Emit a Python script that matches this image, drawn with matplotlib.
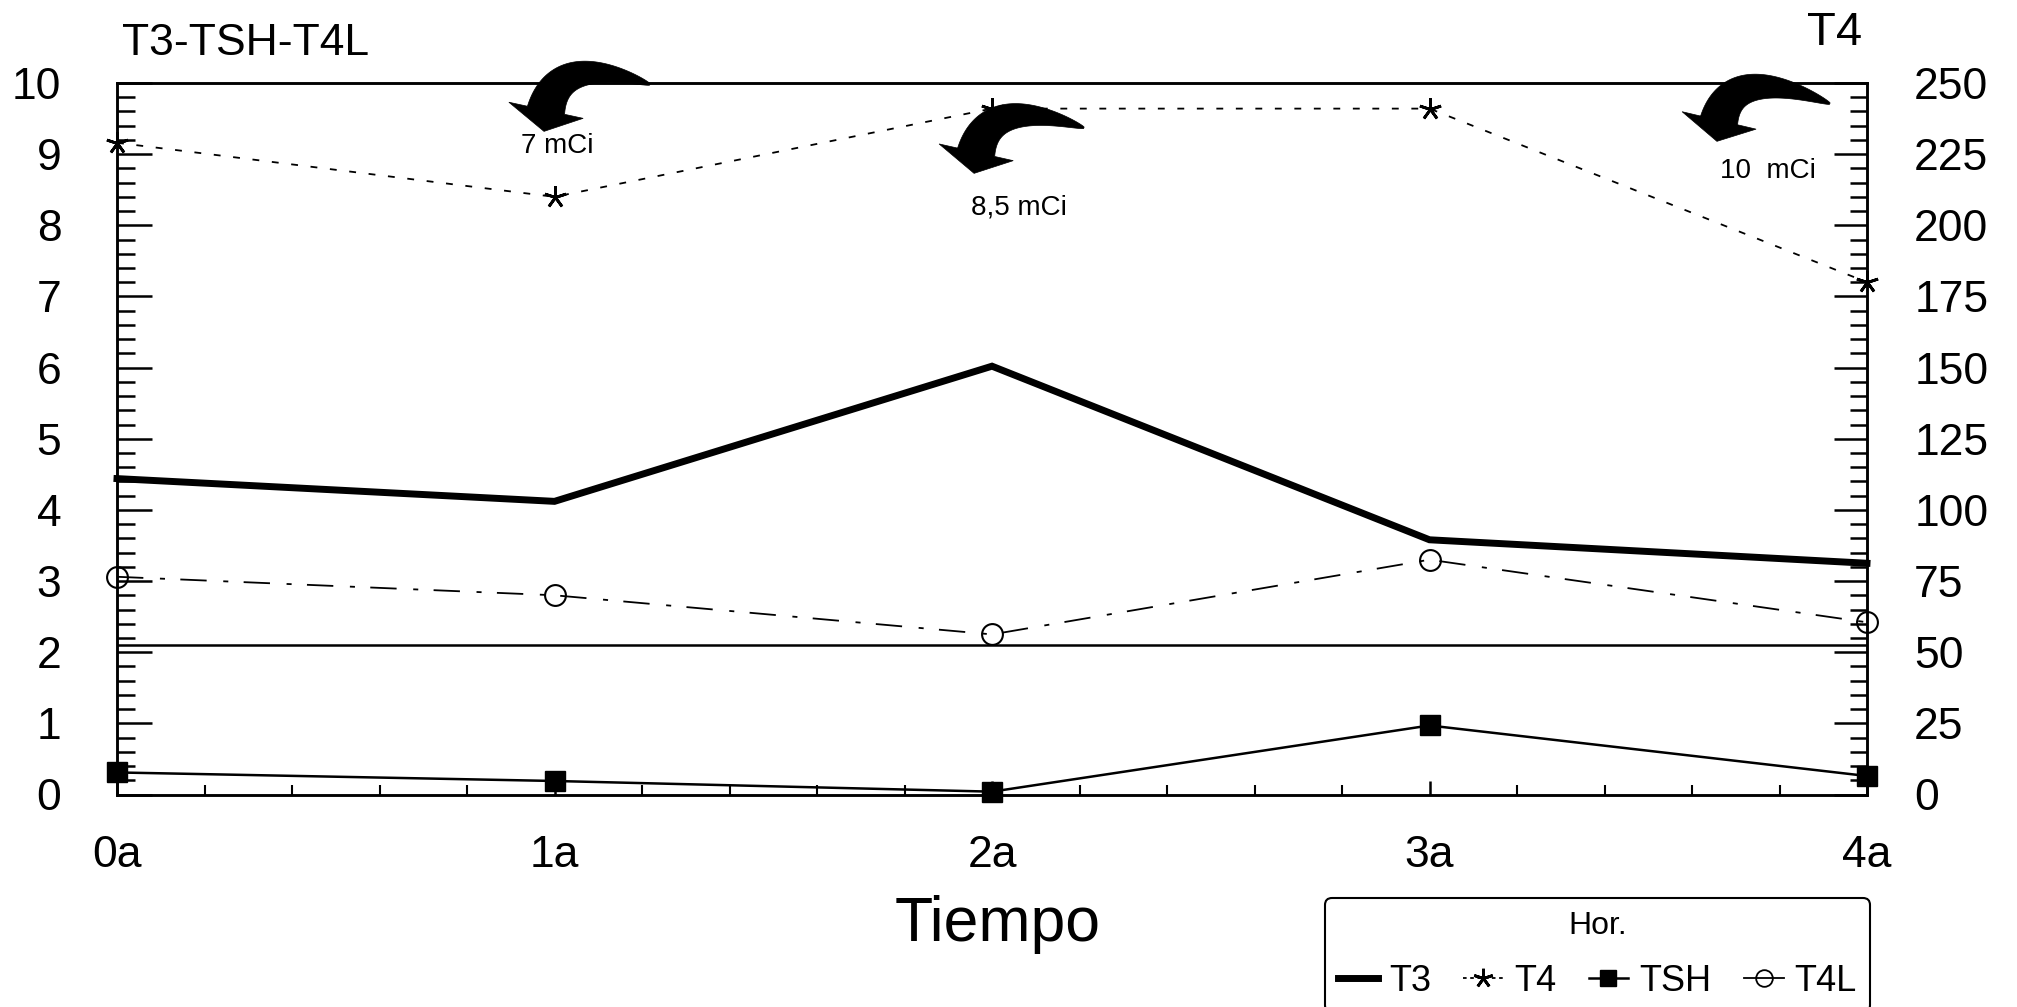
import matplotlib
matplotlib.use("Agg")
import numpy as np
import matplotlib.pyplot as plt
from matplotlib.ticker import MultipleLocator
from matplotlib.lines import Line2D
from matplotlib.patches import Polygon

plt.rcParams['font.family'] = ['Liberation Sans', 'DejaVu Sans']

# ---------------- data ----------------
x_labels = ['0a', '1a', '2a', '3a', '4a']
x_pos = [0, 1, 2, 3, 4]
t3 = [4.44, 4.12, 6.02, 3.58, 3.25]      # left axis
t4 = [229, 210, 241, 241, 180]           # right axis
tsh = [0.31, 0.19, 0.04, 0.97, 0.26]     # left axis
t4l = [3.06, 2.80, 2.25, 3.30, 2.42]     # left axis
series_names = ['T3', 'T4', 'TSH', 'T4L']
dose_labels = ['7 mCi', '8,5 mCi', '10  mCi']
left_ticks = list(range(0, 11))
right_ticks = list(range(0, 251, 25))

# ---------------- figure ----------------
W, H = 2017, 1007
fig = plt.figure(figsize=(W / 100, H / 100), dpi=100)
L, R, B, T = 117 / W, 1867 / W, 1 - 794.5 / H, 1 - 83 / H
ax = fig.add_axes([L, B, R - L, T - B])
ax2 = ax.twinx()

ax.set_xlim(0, 4)
ax.set_ylim(0, 10)
ax2.set_ylim(0, 250)

lwspine = 1.8
for a in (ax, ax2):
    for s in a.spines.values():
        s.set_linewidth(lwspine)

# series
ax.plot(x_pos, t3, color='k', lw=5, clip_on=False, zorder=4,
        solid_joinstyle='miter')
ax.plot(x_pos, tsh, color='k', lw=1.8, marker='s', ms=14, clip_on=False, zorder=4)
ax.plot(x_pos, t4l, color='k', lw=1.3, dashes=(14.6, 9.2, 2.8, 8.5),
        marker='o', ms=15, mfc='none', mec='k', mew=1.5, clip_on=False, zorder=4)
ax2.plot(x_pos, t4, color='k', lw=1.3, dashes=(3.8, 7),
         marker=(5, 2, 0), ms=16, mew=2, mec='k', clip_on=False, zorder=4)

# separator of the lower (TSH) band
ax.axhline(2.1, color='k', lw=lwspine, zorder=3)

# ticks
ax.set_xticks(x_pos)
ax.set_xticklabels(x_labels)
ax.xaxis.set_minor_locator(MultipleLocator(0.2))
ax.set_yticks(left_ticks)
ax.yaxis.set_minor_locator(MultipleLocator(0.2))
ax2.set_yticks(right_ticks)
ax2.yaxis.set_minor_locator(MultipleLocator(5))

ax.tick_params(axis='y', which='major', direction='in', length=25, width=1.8,
               labelsize=32, pad=40)
ax.tick_params(axis='y', which='minor', direction='in', length=13, width=1.8)
ax.tick_params(axis='x', which='major', direction='in', length=10, width=1.8,
               labelsize=32, pad=29, top=False)
ax.tick_params(axis='x', which='minor', direction='in', length=7, width=1.5, top=False)
ax2.tick_params(axis='y', which='major', direction='in', length=24, width=1.8,
                labelsize=32, pad=34)
ax2.tick_params(axis='y', which='minor', direction='in', length=12, width=1.8)

# axis titles
fig.text(122 / W, 1 - 55 / H, 'T3-TSH-T4L', fontsize=32, ha='left', va='baseline')
fig.text(1862 / W, 1 - 45 / H, 'T4', fontsize=34, ha='right', va='baseline')
fig.text(998 / W, 1 - 941 / H, 'Tiempo', fontsize=45, ha='center', va='baseline')


# dose annotations (curved, tapering arrows)
def curved_arrow(tail, tip, rise=85.0, body_w=38.0, head_w=76.0, head_l=21.0):
    P0 = ax.transData.transform(tail)
    P2 = ax.transData.transform(tip)
    C = P2 + np.array([0.0, rise])
    t = np.linspace(0, 1, 400)[:, None]
    pts = (1 - t) ** 2 * P0 + 2 * t * (1 - t) * C + t ** 2 * P2
    dist = np.hypot(*(pts - P2).T)
    k = np.where(dist >= head_l)[0][-1]
    body = pts[:k + 1]
    tang = np.gradient(body, axis=0)
    tang /= np.hypot(*tang.T)[:, None]
    normal = np.column_stack([-tang[:, 1], tang[:, 0]])
    seg = np.hypot(*np.diff(body, axis=0).T)
    s = np.concatenate([[0], np.cumsum(seg)])
    s /= s[-1]
    w = (1.5 + (body_w - 1.5) * s ** 0.75)[:, None] / 2
    left = body + normal * w
    right = body - normal * w
    hb = body[-1]
    n_end = normal[-1]
    poly = np.vstack([left, hb + n_end * head_w / 2, P2,
                      hb - n_end * head_w / 2, right[::-1]])
    poly_fig = fig.transFigure.inverted().transform(poly)
    fig.add_artist(Polygon(poly_fig, closed=True, transform=fig.transFigure,
                           fc='k', ec='k', lw=0.5, zorder=5))


arrow_tails = [(1.218, 9.98), (2.21, 9.37), (3.915, 9.71)]
arrow_tips = [(0.976, 9.32), (1.959, 8.73), (3.657, 9.18)]
text_pos = [(1.006, 9.11), (2.061, 8.25), (3.774, 8.77)]
for lab, tail, tip, tp in zip(dose_labels, arrow_tails, arrow_tips, text_pos):
    curved_arrow(tail, tip)
    ax.text(tp[0], tp[1], lab, fontsize=20, ha='center', va='center')

# legend
handles = [
    Line2D([], [], color='k', lw=5),
    Line2D([], [], color='k', lw=1.3, dashes=(2, 2), marker=(5, 2, 0), ms=14, mew=2),
    Line2D([], [], color='k', lw=1.8, marker='s', ms=12),
    Line2D([], [], color='k', lw=1.3, marker='o', ms=12, mfc='none', mew=1.3),
]
leg = fig.legend(handles, series_names, title='Hor.', ncol=4, loc='upper left',
                 bbox_to_anchor=(1325 / W, 1 - 898 / H), fontsize=26, title_fontsize=23,
                 handlelength=1.1, handletextpad=0.3, columnspacing=0.9,
                 borderpad=0.37, frameon=True, fancybox=True, edgecolor='k',
                 framealpha=1, borderaxespad=0, labelspacing=0.62)
leg.get_frame().set_linewidth(1.5)

fig.savefig('out.png', dpi=100)
